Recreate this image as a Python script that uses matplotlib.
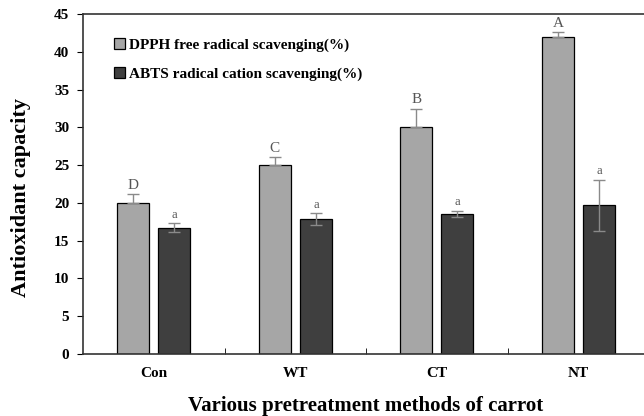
import matplotlib
matplotlib.use('Agg')
import matplotlib.pyplot as plt
import numpy as np

categories = ['Con', 'WT', 'CT', 'NT']
dpph = [20.0, 25.0, 30.0, 42.0]
dpph_err = [1.2, 1.1, 2.5, 0.6]
abts = [16.7, 17.9, 18.6, 19.7]
abts_err = [0.6, 0.8, 0.4, 3.4]
dpph_letters = ['D', 'C', 'B', 'A']
abts_letters = ['a', 'a', 'a', 'a']

serif = ['Liberation Serif', 'DejaVu Serif']

fig = plt.figure(figsize=(6.44, 4.16), dpi=100)
ax = fig.add_axes([0.129, 0.149, 0.879, 0.817])

x = np.arange(len(categories))
w = 0.226
off = 0.145

ax.bar(x - off, dpph, w, color='#a6a6a6', edgecolor='black', linewidth=0.9,
       label='DPPH free radical scavenging(%)', zorder=2)
ax.bar(x + off, abts, w, color='#3f3f3f', edgecolor='black', linewidth=0.9,
       label='ABTS radical cation scavenging(%)', zorder=2)
# grey bars: only the upper half of the error bar is visible
ax.errorbar(x - off, dpph, yerr=[np.zeros(4), dpph_err], fmt='none', ecolor='#8a8a8a',
            elinewidth=1, capsize=4, capthick=1, zorder=3)
ax.errorbar(x + off, abts, yerr=abts_err, fmt='none', ecolor='#8a8a8a',
            elinewidth=1, capsize=4, capthick=1, zorder=3)

# significance letters
for i in range(len(categories)):
    ax.text(x[i] - off, dpph[i] + dpph_err[i] + 0.3, dpph_letters[i], ha='center',
            va='bottom', fontsize=11, family=serif, color='#555555')
    ax.text(x[i] + off, abts[i] + abts_err[i] + 0.3, abts_letters[i], ha='center',
            va='bottom', fontsize=9, family=serif, color='#555555')

ax.set_xlim(-0.5, 3.5)
ax.set_ylim(0, 45)
ax.set_yticks(range(0, 46, 5))
ax.set_xticks(x)
ax.set_xticklabels(categories)
ax.set_xticks([0.5, 1.5, 2.5], minor=True)
ax.tick_params(axis='x', which='major', length=0, pad=9)
ax.tick_params(axis='x', which='minor', direction='in', length=4)
ax.tick_params(axis='y', direction='out', length=4, pad=6)
for lab in ax.get_xticklabels() + ax.get_yticklabels():
    lab.set_family(serif)
    lab.set_fontweight('bold')
    lab.set_fontsize(11)

for s in ax.spines.values():
    s.set_linewidth(1.2)
    s.set_color('#333333')

ax.set_ylabel('Antioxidant capacity', family=serif, fontweight='bold',
              fontsize=16)
ax.yaxis.set_label_coords(-0.092, 0.46)
ax.set_xlabel('Various pretreatment methods of carrot', family=serif,
              fontweight='bold', fontsize=15, labelpad=12)

ax.legend(loc='upper left', frameon=False, prop={'family': serif, 'weight': 'bold', 'size': 11},
          handlelength=0.7, handleheight=0.7, handletextpad=0.3, labelspacing=1.0,
          bbox_to_anchor=(0.03, 0.97))

plt.savefig('out.png', dpi=100)
